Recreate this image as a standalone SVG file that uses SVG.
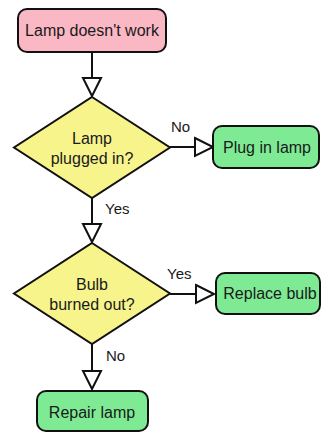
<svg xmlns="http://www.w3.org/2000/svg" width="321" height="432" viewBox="0 0 321 432">
<style>
.t{font-family:"Liberation Sans",Arial,sans-serif;font-size:16px;fill:#1a1a1a;text-anchor:middle}
.l{font-family:"Liberation Sans",Arial,sans-serif;font-size:15px;fill:#1a1a1a}
.s{stroke:#111;stroke-width:2}
.c{stroke:#111;stroke-width:2;fill:none}
</style>
<defs>
<marker id="ah" markerUnits="userSpaceOnUse" markerWidth="22" markerHeight="22" refX="18" refY="9" orient="auto" overflow="visible">
<path d="M0,0 L18,9 L0,18 Z" fill="#fff" stroke="#111" stroke-width="2" stroke-linejoin="miter"/>
</marker>
</defs>
<rect width="321" height="432" fill="#fff"/>
<g id="connectors">
<path class="c" d="M92,52 L92,96" marker-end="url(#ah)"/>
<path class="c" d="M170,147 L213,147" marker-end="url(#ah)"/>
<path class="c" d="M92,198 L92,242" marker-end="url(#ah)"/>
<path class="c" d="M170,294 L214,294" marker-end="url(#ah)"/>
<path class="c" d="M92,344 L92,389" marker-end="url(#ah)"/>
<text class="l" x="171" y="132">No</text>
<text class="l" x="105" y="214">Yes</text>
<text class="l" x="167" y="279">Yes</text>
<text class="l" x="106" y="361">No</text>
</g>
<g id="start">
<rect class="s" x="18" y="9" width="148" height="43" rx="9" fill="#f9b8c4"/>
<text class="t" x="92" y="36">Lamp doesn't work</text>
</g>
<g id="d1">
<polygon class="s" points="92,97 170,147.5 92,198 14,147.5" fill="#f7f48c" stroke-linejoin="miter"/>
<text class="t" x="92" y="144">Lamp</text>
<text class="t" x="92" y="164">plugged in?</text>
</g>
<g id="plug">
<rect class="s" x="213" y="126" width="106" height="42" rx="9" fill="#7eea94"/>
<text class="t" x="267" y="153">Plug in lamp</text>
</g>
<g id="d2">
<polygon class="s" points="92,243 170,293.5 92,344 14,293.5" fill="#f7f48c" stroke-linejoin="miter"/>
<text class="t" x="92" y="290">Bulb</text>
<text class="t" x="92" y="310">burned out?</text>
</g>
<g id="replace">
<rect class="s" x="216" y="273" width="104" height="41" rx="9" fill="#7eea94"/>
<text class="t" x="270" y="299">Replace bulb</text>
</g>
<g id="repair">
<rect class="s" x="37" y="391" width="111" height="40" rx="9" fill="#7eea94"/>
<text class="t" x="92" y="418">Repair lamp</text>
</g>
</svg>
